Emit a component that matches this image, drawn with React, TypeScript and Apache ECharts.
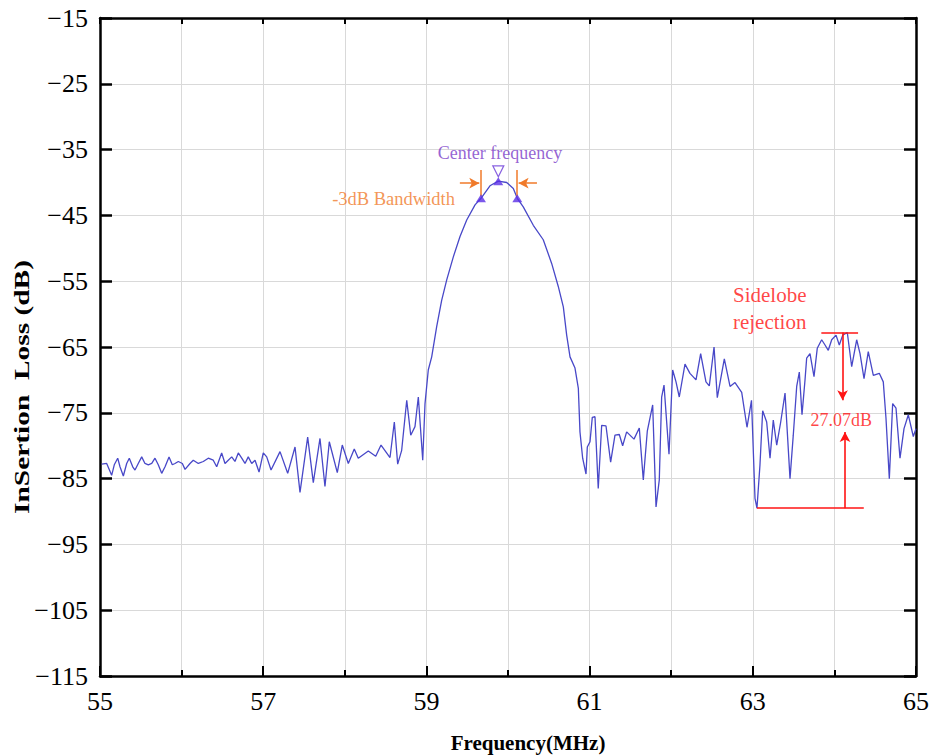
import React, { useEffect, useRef } from "react";
import * as echarts from "echarts";

// Measured insertion-loss curve (frequency in MHz, loss in dB)
const freq = [
  55.021, 55.082, 55.143, 55.175, 55.217, 55.245, 55.286, 55.327, 55.359, 55.401,
  55.429, 55.469, 55.511, 55.551, 55.592, 55.634, 55.674, 55.714, 55.756, 55.797,
  55.846, 55.886, 55.919, 55.96, 56.009, 56.042, 56.103, 56.143, 56.205, 56.266,
  56.327, 56.388, 56.43, 56.491, 56.532, 56.572, 56.614, 56.654, 56.695, 56.737,
  56.777, 56.817, 56.859, 56.9, 56.949, 57.001, 57.043, 57.096, 57.206, 57.3,
  57.39, 57.451, 57.545, 57.614, 57.696, 57.757, 57.81, 57.908, 57.969, 58.043,
  58.116, 58.165, 58.288, 58.379, 58.444, 58.554, 58.607, 58.648, 58.697, 58.759,
  58.808, 58.86, 58.901, 58.955, 58.983, 59.023, 59.065, 59.126, 59.187, 59.249,
  59.33, 59.412, 59.494, 59.596, 59.669, 59.779, 59.881, 59.984, 60.065, 60.114,
  60.187, 60.31, 60.432, 60.535, 60.616, 60.678, 60.719, 60.76, 60.821, 60.862,
  60.882, 60.915, 60.956, 60.972, 61.005, 61.033, 61.066, 61.106, 61.148, 61.201,
  61.258, 61.311, 61.364, 61.405, 61.454, 61.544, 61.609, 61.658, 61.707, 61.773,
  61.814, 61.854, 61.883, 61.912, 61.973, 62.018, 62.059, 62.099, 62.169, 62.23,
  62.304, 62.361, 62.426, 62.467, 62.525, 62.565, 62.651, 62.721, 62.782, 62.864,
  62.929, 62.984, 63.027, 63.051, 63.088, 63.121, 63.17, 63.211, 63.251, 63.293,
  63.342, 63.395, 63.456, 63.496, 63.538, 63.57, 63.603, 63.64, 63.66, 63.701,
  63.75, 63.79, 63.844, 63.885, 63.925, 63.967, 64.02, 64.06, 64.102, 64.158,
  64.212, 64.273, 64.314, 64.363, 64.415, 64.477, 64.55, 64.599, 64.632, 64.673,
  64.714, 64.755, 64.804, 64.853, 64.906, 64.967, 65.0,
];
const loss = [
  -82.8, -82.7, -84.5, -82.9, -81.9, -83.2, -84.6, -82.7, -81.9, -83.2,
  -83.7, -82.7, -81.7, -82.7, -82.9, -82.7, -81.9, -82.9, -84.2, -83.2,
  -81.7, -82.9, -82.7, -82.4, -82.7, -83.6, -82.7, -82.2, -82.7, -82.4,
  -81.9, -82.2, -83.2, -81.1, -82.7, -82.2, -81.7, -82.4, -81.1, -81.9,
  -82.7, -81.7, -82.7, -82.2, -84.0, -81.1, -81.7, -83.7, -80.9, -84.2,
  -80.2, -87.1, -78.7, -85.6, -78.9, -86.2, -79.4, -84.1, -79.9, -82.7,
  -80.5, -81.9, -80.8, -81.6, -79.9, -81.8, -76.4, -82.8, -80.7, -73.1,
  -78.4, -77.1, -72.6, -82.2, -73.6, -68.5, -66.5, -61.9, -57.9, -54.8,
  -51.3, -48.2, -45.7, -43.4, -42.4, -40.5, -39.8, -40.0, -40.9, -42.4,
  -43.7, -46.5, -48.7, -52.3, -55.8, -58.9, -63.2, -66.5, -68.2, -71.3,
  -77.9, -81.9, -84.3, -80.2, -79.4, -75.7, -75.6, -86.5, -76.9, -77.0,
  -82.5, -78.4, -78.3, -80.0, -77.9, -79.0, -77.3, -85.2, -77.8, -73.8,
  -89.3, -85.2, -72.6, -70.8, -81.3, -68.5, -70.3, -72.6, -67.6, -69.0,
  -70.0, -66.0, -70.3, -70.9, -65.0, -72.7, -66.8, -71.0, -70.4, -71.9,
  -77.2, -73.1, -88.0, -89.5, -82.9, -74.7, -76.4, -81.9, -76.1, -79.9,
  -76.4, -72.0, -85.0, -78.4, -71.0, -68.8, -75.3, -70.0, -66.7, -66.0,
  -69.5, -65.2, -63.9, -64.7, -65.5, -63.9, -63.2, -64.7, -63.2, -62.8,
  -68.0, -63.9, -66.0, -69.8, -65.7, -69.3, -69.0, -70.3, -75.8, -85.0,
  -73.6, -74.3, -81.9, -77.4, -75.3, -78.6, -77.4,
];

// Marker points: -3 dB left edge, centre frequency, -3 dB right edge
const markerFreq = [59.669, 59.881, 60.114];
const markerLoss = [-42.4, -39.8, -42.4];
const centerMarkFreq = 59.881;
const centerMarkLoss = -38.3;

// Annotation geometry (data units)
const bwArrowLoss = -40.1;
const bwLeftArrow = [59.41, 59.648];
const bwRightArrow = [60.355, 60.13];
const bwTickFreq = [59.66, 60.11];
const bwTickLoss = [-38.1, -42.1];
const sidelobePeak = -62.8;
const sidelobeFloor = -89.5;
const sidelobeTopSpan = [63.84, 64.29];
const sidelobeBottomSpan = [63.05, 64.36];
const rejArrowFreq = [64.1, 64.13];
const rejArrowEnds = [-73.1, -77.9];

// Texts
const texts = [
  { text: "Center frequency", f: 59.902, v: -35.5, color: "#7a3cc8", size: 18, align: "center" },
  { text: "-3dB Bandwidth", f: 59.35, v: -42.5, color: "#f07a2a", size: 18.5, align: "right" },
  { text: "Sidelobe", f: 62.757, v: -57.1, color: "#ff1414", size: 21, align: "left" },
  { text: "rejection", f: 62.757, v: -61.2, color: "#ff1414", size: 21, align: "left" },
  { text: "27.07dB", f: 64.085, v: -76.1, color: "#ff1414", size: 18, align: "center" },
];

const xTitle = "Frequency(MHz)";
const yTitle = "InSertion  Loss (dB)";

const SERIF = '"Liberation Serif", "Times New Roman", serif';
const ORANGE = "#f07a2a";
const RED = "#ff1414";

export default function App() {
  const ref = useRef<HTMLDivElement>(null);
  useEffect(() => {
    document.body.style.margin = "0";
    const chart = echarts.init(ref.current!, null, { renderer: "svg" });
    const minus = (v: number) => (v < 0 ? "\u2212" + Math.abs(v) : String(v));
    const axisLineStyle = { color: "#000", width: 2.5 };
    const grid = { color: "#d9d9d9", width: 1 };

    const orangeStyle = { color: ORANGE, width: 1.5, type: "solid" };
    const redStyle = { color: RED, width: 1.6, type: "solid" };
    const seg = (a: number[], b: number[], style: any, arrow: boolean) => [
      { coord: a, symbol: "none", lineStyle: style },
      { coord: b, symbol: arrow ? "arrow" : "none", lineStyle: style },
    ];

    chart.setOption({
      animation: false,
      grid: { left: 100, right: 21, top: 18, bottom: 80 },
      xAxis: [
        {
          type: "value",
          min: 55,
          max: 65,
          interval: 2,
          position: "bottom",
          axisLine: { onZero: false, lineStyle: axisLineStyle },
          axisTick: { inside: true, length: 10, lineStyle: { color: "#000", width: 2 } },
          minorTick: { show: true, splitNumber: 2, length: 6, lineStyle: { color: "#000", width: 2 } },
          splitLine: { show: true, lineStyle: grid },
          minorSplitLine: { show: true, lineStyle: grid },
          axisLabel: { fontSize: 26, color: "#000", fontFamily: SERIF, margin: 12 },
        },
        {
          type: "value",
          min: 55,
          max: 65,
          interval: 2,
          position: "top",
          axisLine: { onZero: false, lineStyle: axisLineStyle },
          axisTick: { inside: true, length: 6, lineStyle: { color: "#000", width: 2 } },
          minorTick: { show: true, splitNumber: 2, length: 6, lineStyle: { color: "#000", width: 2 } },
          splitLine: { show: false },
          axisLabel: { show: false },
        },
      ],
      yAxis: [
        {
          type: "value",
          min: -115,
          max: -15,
          interval: 10,
          position: "left",
          axisLine: { onZero: false, lineStyle: axisLineStyle },
          axisTick: { inside: true, length: 12, lineStyle: { color: "#000", width: 2.5 } },
          splitLine: { show: true, lineStyle: grid },
          axisLabel: { fontSize: 26, color: "#000", fontFamily: SERIF, margin: 12, formatter: minus },
        },
        {
          type: "value",
          min: -115,
          max: -15,
          interval: 10,
          position: "right",
          axisLine: { onZero: false, lineStyle: axisLineStyle },
          axisTick: { inside: true, length: 12, lineStyle: { color: "#000", width: 2.5 } },
          splitLine: { show: false },
          axisLabel: { show: false },
        },
      ],
      series: [
        {
          type: "line",
          data: freq.map((f, i) => [f, loss[i]]),
          symbol: "none",
          lineStyle: { color: "#4848c8", width: 1.3 },
          z: 3,
          markLine: {
            silent: true,
            symbolSize: [8, 10],
            label: { show: false },
            emphasis: { disabled: true },
            data: [
              seg([bwLeftArrow[0], bwArrowLoss], [bwLeftArrow[1], bwArrowLoss], orangeStyle, true),
              seg([bwRightArrow[0], bwArrowLoss], [bwRightArrow[1], bwArrowLoss], orangeStyle, true),
              seg([bwTickFreq[0], bwTickLoss[0]], [bwTickFreq[0], bwTickLoss[1]], orangeStyle, false),
              seg([bwTickFreq[1], bwTickLoss[0]], [bwTickFreq[1], bwTickLoss[1]], orangeStyle, false),
              seg([sidelobeTopSpan[0], sidelobePeak], [sidelobeTopSpan[1], sidelobePeak], redStyle, false),
              seg([sidelobeBottomSpan[0], sidelobeFloor], [sidelobeBottomSpan[1], sidelobeFloor], redStyle, false),
              seg([rejArrowFreq[0], sidelobePeak], [rejArrowFreq[0], rejArrowEnds[0]], redStyle, true),
              seg([rejArrowFreq[1], sidelobeFloor], [rejArrowFreq[1], rejArrowEnds[1]], redStyle, true),
            ],
          },
        },
        {
          type: "scatter",
          data: markerFreq.map((f, i) => [f, markerLoss[i]]),
          symbol: "triangle",
          symbolSize: [10, 8],
          itemStyle: { color: "#5a2ee6" },
          z: 5,
        },
        {
          type: "scatter",
          data: [[centerMarkFreq, centerMarkLoss]],
          symbol: "triangle",
          symbolRotate: 180,
          symbolSize: [11, 11],
          itemStyle: { color: "#ffffff", borderColor: "#6a3ad8", borderWidth: 1.2 },
          z: 5,
        },
        {
          type: "scatter",
          symbolSize: 0,
          silent: true,
          z: 6,
          data: texts.map((t) => ({
            value: [t.f, t.v],
            label: {
              show: true,
              position: "inside",
              formatter: t.text,
              color: t.color,
              fontSize: t.size,
              fontFamily: SERIF,
              align: t.align,
              verticalAlign: "middle",
            },
          })),
        },
      ],
      graphic: [
        {
          type: "text",
          x: 528,
          y: 743,
          style: {
            text: xTitle,
            fill: "#000",
            font: 'bold 21px "Liberation Serif", serif',
            align: "center",
            verticalAlign: "middle",
          },
        },
        {
          type: "text",
          x: 22,
          y: 387,
          rotation: Math.PI / 2,
          scaleX: 1.47,
          style: {
            text: yTitle,
            fill: "#000",
            font: 'bold 20px "Liberation Serif", serif',
            align: "center",
            verticalAlign: "middle",
          },
        },
      ],
    });
    return () => chart.dispose();
  }, []);
  return <div ref={ref} style={{ width: 937, height: 756, position: "absolute", left: 0, top: 0 }} />;
}
